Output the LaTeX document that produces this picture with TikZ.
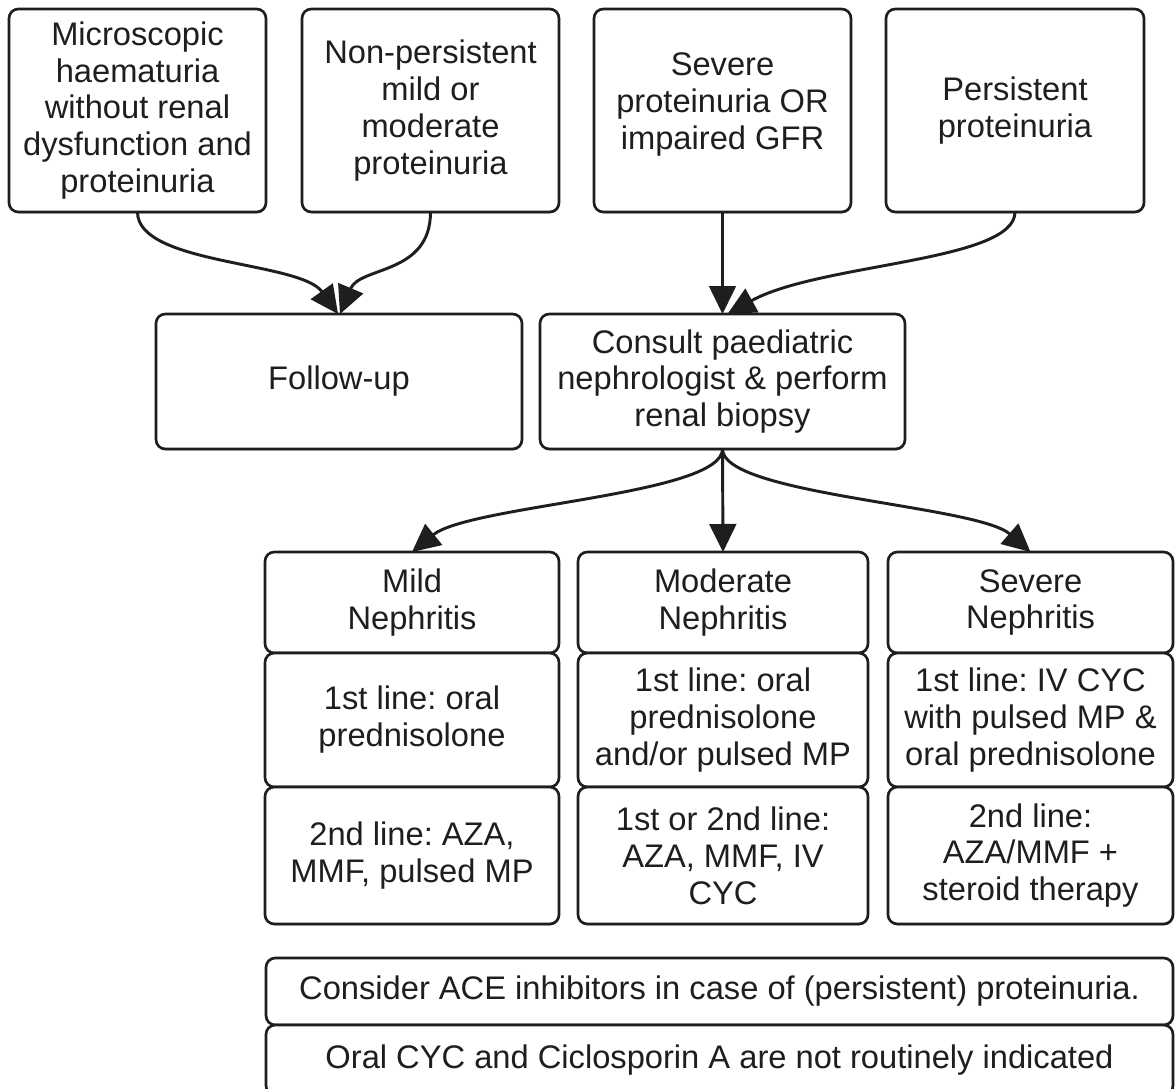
\documentclass[tikz,border=0pt]{standalone}
\usepackage{fontspec}
\setmainfont{Liberation Sans}
\frenchspacing
\usetikzlibrary{arrows.meta,calc,shadows}
\definecolor{ink}{HTML}{1E1E1E}
\begin{document}
\begin{tikzpicture}[x=0.75pt,y=-0.75pt,
  bx/.style={draw=ink, line width=2pt, rounded corners=7pt, fill=white,
    inner sep=0pt, outer sep=0pt, anchor=north west, align=center, text=ink,
    font=\fontsize{24.5}{27.7}\selectfont,
    drop shadow={shadow xshift=0.5pt, shadow yshift=-1pt, fill=black!45, opacity=1}},
  conn/.style={draw=ink, line width=2.2pt, -{Triangle[length=21pt,width=20pt]}}]
\useasboundingbox (0,0) rectangle (1175,1089);
\fill[white] (0,0) rectangle (1175,1089);

% top row
\node[bx, minimum width=192.75pt, minimum height=152.25pt] (m) at (9,9)
  {Microscopic\\haematuria\\without renal\\dysfunction and\\proteinuria};
\node[bx, minimum width=192.75pt, minimum height=152.25pt] (np) at (302,9)
  {Non-persistent\\mild or\\moderate\\proteinuria};
\node[bx, minimum width=192.75pt, minimum height=152.25pt] (sp) at (594,9)
  {Severe\\proteinuria OR\\impaired GFR\rule[-14pt]{0pt}{14pt}};
\node[bx, minimum width=193.5pt, minimum height=152.25pt] (pp) at (886,9)
  {Persistent\\proteinuria};

% middle row
\node[bx, minimum width=274.5pt, minimum height=101.25pt] (fu) at (156,314)
  {Follow-up};
\node[bx, minimum width=273.75pt, minimum height=101.25pt] (cs) at (540,314)
  {Consult paediatric\\nephrologist \& perform\\renal biopsy};

% mild column
\node[bx, minimum width=220.5pt, minimum height=75.75pt] (mi1) at (265,552)
  {Mild\\Nephritis};
\node[bx, minimum width=220.5pt, minimum height=100.5pt] (mi2) at (265,653)
  {1st line: oral\\prednisolone};
\node[bx, minimum width=220.5pt, minimum height=102.75pt] (mi3) at (265,787)
  {2nd line: AZA,\\MMF, pulsed MP};

% moderate column
\node[bx, minimum width=217.5pt, minimum height=75.75pt] (mo1) at (578,552)
  {Moderate\\Nephritis};
\node[bx, minimum width=217.5pt, minimum height=100.5pt] (mo2) at (578,653)
  {1st line: oral\\prednisolone\\and/or pulsed MP};
\node[bx, minimum width=217.5pt, minimum height=102.75pt] (mo3) at (578,787)
  {1st or 2nd line:\\AZA, MMF, IV\\CYC};

% severe column
\node[bx, minimum width=213.75pt, minimum height=75.75pt] (se1) at (888,552)
  {Severe\\Nephritis};
\node[bx, minimum width=213.75pt, minimum height=100.5pt] (se2) at (888,653)
  {1st line: IV CYC\\with pulsed MP \&\\oral prednisolone};
\node[bx, minimum width=213.75pt, minimum height=102.75pt] (se3) at (888,787)
  {2nd line:\\AZA/MMF +\\steroid therapy};

% bottom notes
\node[bx, minimum width=680.25pt, minimum height=50.25pt] (b1) at (266,958)
  {Consider ACE inhibitors in case of (persistent) proteinuria.};
\node[bx, minimum width=680.25pt, minimum height=52.5pt] (b2) at (266,1025)
  {Oral CYC and Ciclosporin A are not routinely indicated};

% connectors
\draw[conn] (m.south) .. controls ($(m.south)+(0,53)$) and ($(fu.north)+(-39,-53)$) .. ($(fu.north)+(-1,0)$);
\draw[conn] (np.south) .. controls ($(np.south)+(0,63)$) and ($(fu.north)+(21,-48)$) .. ($(fu.north)+(1,0)$);
\draw[conn] (sp.south) -- (cs.north);
\draw[conn] (pp.south) .. controls ($(pp.south)+(0,50)$) and ($(cs.north)+(97,-51)$) .. ($(cs.north)+(5,0)$);
\draw[conn] (cs.south) .. controls ($(cs.south)+(0,46)$) and ($(mi1.north)+(58,-47)$) .. (mi1.north);
\draw[conn] (cs.south) -- (mo1.north);
\draw[conn] (cs.south) .. controls ($(cs.south)+(0,46)$) and ($(se1.north)+(-54,-47)$) .. (se1.north);
\end{tikzpicture}
\end{document}
